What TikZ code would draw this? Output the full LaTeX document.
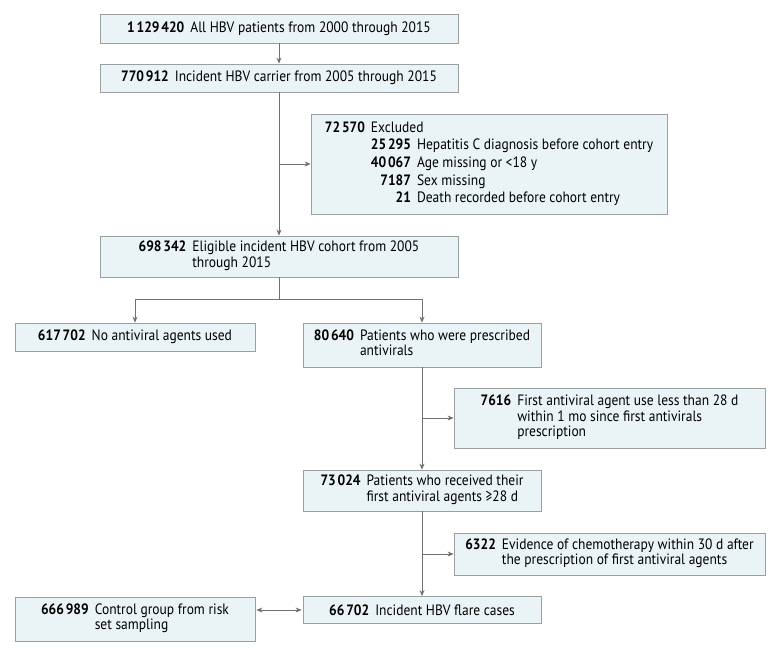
\documentclass[tikz,border=0pt]{standalone}
\usepackage{fontspec}
\setmainfont{PT Sans}[FakeStretch=0.9]
\usetikzlibrary{arrows.meta}
\definecolor{boxfill}{HTML}{EAF3F5}
\definecolor{boxline}{HTML}{9A9FA1}
\definecolor{arrowgray}{HTML}{707070}
\newcommand{\num}[1]{\textbf{#1}}
\newcommand{\thsep}{\hspace{0.12em}}

\begin{document}
\begin{tikzpicture}[x=1pt, y=-1pt,
        box/.style={rectangle, draw=boxline, fill=boxfill, line width=0.8pt, inner sep=0pt, minimum width=358pt, font=\fontsize{15}{15.5}\selectfont},
        arrow/.style={-{Stealth[length=6pt, width=5pt]}, draw=arrowgray, line width=0.8pt},
        line/.style={draw=arrowgray, line width=0.8pt}
        ]
        \useasboundingbox (0,0) rectangle (780,654);

        % main column
        \node[box, minimum height=29pt] (allpat) at (279,28.5) {\num{1\thsep129\thsep420}\hspace{6pt}All HBV patients from 2000 through 2015};
        \node[box, minimum height=28pt] (carrier) at (279,78) {\num{770\thsep912}\hspace{6pt}Incident HBV carrier from 2005 through 2015};
        \node[box, minimum width=356pt, minimum height=100pt] (excluded) at (489,164) {\renewcommand{\arraystretch}{1.14}%
            \begin{tabular}{@{}r@{\hspace{6pt}}r@{\hspace{6pt}}l@{}}
            \num{72\thsep570} & \multicolumn{2}{@{}l@{}}{Excluded}\\
            & \num{25\thsep295} & Hepatitis C diagnosis before cohort entry\\
            & \num{40\thsep067} & Age missing or <18 y\\
            & \num{7187} & Sex missing\\
            & \num{21} & Death recorded before cohort entry
            \end{tabular}};
        \node[box, minimum height=41pt] (eligible) at (279,256.5) {\begin{tabular}{@{}r@{\hspace{6pt}}l@{}}
            \num{698\thsep342} & Eligible incident HBV cohort from 2005\\
            & through 2015
            \end{tabular}};

        % split
        \node[box, minimum width=240pt, minimum height=28pt] (noanti) at (135,337) {\num{617\thsep702}\hspace{6pt}No antiviral agents used};
        \node[box, minimum width=238pt, minimum height=44pt] (prescribed) at (422,345) {\begin{tabular}{@{}r@{\hspace{6pt}}l@{}}
            \num{80\thsep640} & Patients who were prescribed\\
            & antivirals
            \end{tabular}};
        \node[box, minimum width=311pt, minimum height=60pt] (short) at (609.5,418) {\begin{tabular}{@{}r@{\hspace{6pt}}l@{}}
            \num{7616} & First antiviral agent use less than 28 d\\
            & within 1 mo since first antivirals\\
            & prescription
            \end{tabular}};
        \node[box, minimum width=238pt, minimum height=41pt] (received) at (422,490.5) {\begin{tabular}{@{}r@{\hspace{6pt}}l@{}}
            \num{73\thsep024} & Patients who received their\\
            & first antiviral agents ≥28 d
            \end{tabular}};
        \node[box, minimum width=311pt, minimum height=42pt] (chemo) at (609.5,554) {\begin{tabular}{@{}r@{\hspace{6pt}}l@{}}
            \num{6322} & Evidence of chemotherapy within 30 d after\\
            & the prescription of first antiviral agents
            \end{tabular}};
        \node[box, minimum width=238pt, minimum height=27pt] (flare) at (422,610) {\num{66\thsep702}\hspace{6pt}Incident HBV flare cases};
        \node[box, minimum width=240pt, minimum height=44pt] (control) at (135,619) {\begin{tabular}{@{}r@{\hspace{6pt}}l@{}}
            \num{666\thsep989} & Control group from risk\\
            & set sampling
            \end{tabular}};

        \coordinate (split) at (279,299);

        \draw[arrow] (allpat) -- (carrier);
        \draw[arrow] (carrier) -- (eligible);
        \draw[arrow] (carrier.south |- excluded.west) -- (excluded.west);
        \draw[line] (eligible) -- (split);
        \draw[arrow] (split) -| (noanti);
        \draw[arrow] (split) -| (prescribed);
        \draw[arrow] (prescribed) -- (received);
        \draw[arrow] (prescribed.south |- short.west) -- (short.west);
        \draw[arrow] (received) -- (flare);
        \draw[arrow] (received.south |- chemo.west) -- (chemo.west);
        \draw[arrow, {Stealth[length=6pt, width=5pt]}-{Stealth[length=6pt, width=5pt]}, shorten <=1pt, shorten >=1pt] (flare.west) -- (flare.west -| control.east);
    \end{tikzpicture}
\end{document}
